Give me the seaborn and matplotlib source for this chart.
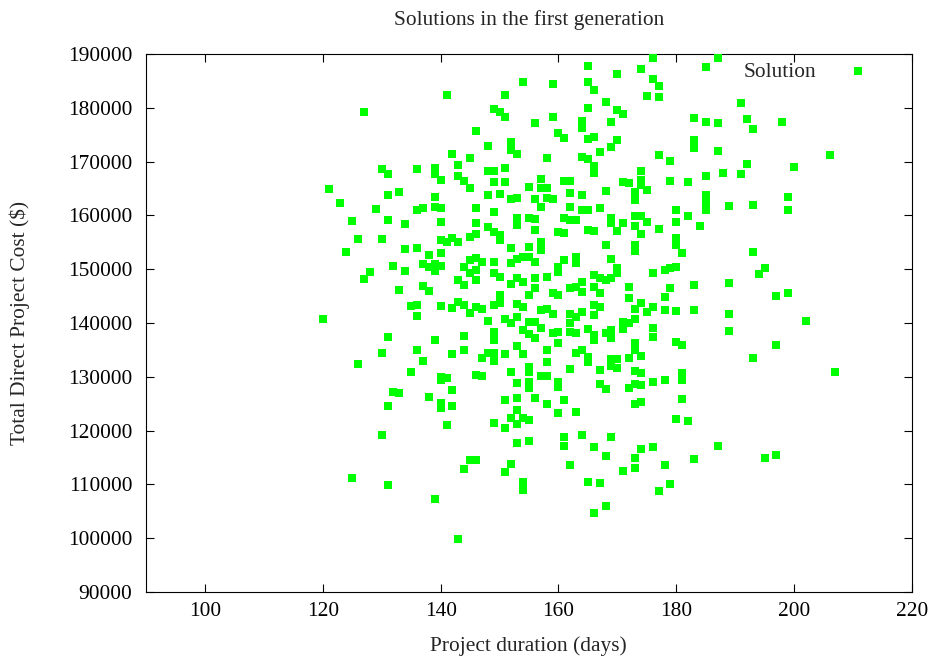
import matplotlib
matplotlib.use("Agg")
import matplotlib.pyplot as plt
import seaborn as sns
import pandas as pd

# ---- data ----
duration_days = [
    120,
    121,
    123,
    124,
    125, 125,
    126, 126,
    127, 127,
    128,
    129,
    130, 130, 130, 130,
    131, 131, 131, 131, 131, 131,
    132, 132,
    133, 133, 133,
    134, 134, 134,
    135, 135,
    136, 136, 136, 136, 136, 136,
    137, 137, 137, 137,
    138, 138, 138, 138,
    139, 139, 139, 139, 139, 139, 139, 139,
    140, 140, 140, 140, 140, 140, 140, 140, 140, 140, 140,
    141, 141, 141, 141,
    142, 142, 142, 142, 142, 142,
    143, 143, 143, 143, 143, 143,
    144, 144, 144, 144, 144, 144, 144,
    145, 145, 145, 145, 145, 145, 145,
    146, 146, 146, 146, 146, 146, 146, 146, 146, 146,
    147, 147, 147, 147,
    148, 148, 148, 148, 148, 148,
    149, 149, 149, 149, 149, 149, 149, 149, 149, 149, 149, 149, 149,
    150, 150, 150, 150, 150, 150, 150,
    151, 151, 151, 151, 151, 151, 151, 151, 151,
    152, 152, 152, 152, 152, 152, 152, 152, 152, 152,
    153, 153, 153, 153, 153, 153, 153, 153, 153, 153, 153, 153, 153, 153,
    154, 154, 154, 154, 154, 154, 154, 154, 154,
    155, 155, 155, 155, 155, 155, 155, 155, 155, 155, 155, 155, 155,
    156, 156, 156, 156, 156, 156, 156, 156, 156, 156,
    157, 157, 157, 157, 157, 157, 157, 157,
    158, 158, 158, 158, 158, 158, 158, 158, 158,
    159, 159, 159, 159, 159, 159,
    160, 160, 160, 160, 160, 160, 160, 160, 160, 160,
    161, 161, 161, 161, 161, 161, 161, 161,
    162, 162, 162, 162, 162, 162, 162, 162, 162, 162,
    163, 163, 163, 163, 163, 163, 163, 163,
    164, 164, 164, 164, 164, 164, 164, 164, 164, 164,
    165, 165, 165, 165, 165, 165, 165, 165, 165, 165, 165,
    166, 166, 166, 166, 166, 166, 166, 166, 166, 166, 166, 166, 166,
    167, 167, 167, 167, 167, 167, 167, 167,
    168, 168, 168, 168, 168, 168, 168, 168,
    169, 169, 169, 169, 169, 169, 169, 169, 169, 169, 169,
    170, 170, 170, 170, 170, 170, 170, 170,
    171, 171, 171, 171, 171, 171,
    172, 172, 172, 172, 172, 172,
    173, 173, 173, 173, 173, 173, 173, 173, 173, 173, 173, 173, 173, 173, 173,
    174, 174, 174, 174, 174, 174, 174, 174, 174, 174, 174, 174,
    175, 175, 175, 175,
    176, 176, 176, 176, 176, 176, 176, 176,
    177, 177, 177, 177, 177,
    178, 178, 178, 178, 178,
    179, 179, 179, 179, 179,
    180, 180, 180, 180, 180, 180, 180, 180,
    181, 181, 181, 181, 181,
    182, 182, 182,
    183, 183, 183, 183, 183, 183,
    184,
    185, 185, 185, 185, 185, 185,
    187, 187, 187, 187,
    188,
    189, 189, 189, 189,
    191, 191,
    192, 192,
    193, 193, 193, 193,
    194,
    195, 195,
    197, 197, 197,
    198,
    199, 199, 199,
    200,
    202,
    206,
    207,
]

direct_cost = [
    140700,
    164900,
    162300,
    153200,
    159000, 111200,
    155600, 132400,
    179200, 148200,
    149500,
    161200,
    168600, 155600, 134400, 119200,
    167700, 163800, 159100, 137400, 124600, 109900,
    150600, 127200,
    164300, 146100, 127000,
    158400, 153800, 149700,
    143200, 130900,
    168600, 161000, 153900, 143300, 141300, 135000,
    161400, 151000, 146900, 132900,
    152600, 150400, 145900, 126200,
    168800, 167700, 163400, 161600, 151000, 149700, 136800, 107300,
    166600, 161400, 158800, 155400, 153000, 150600, 143200, 130000, 129400, 125100, 124200,
    182400, 155100, 129800, 121000,
    171400, 155800, 142800, 134200, 127500, 124600,
    169400, 167300, 155100, 148000, 143900, 99900,
    166400, 150400, 147000, 143300, 137600, 135000, 112900,
    170700, 165100, 156000, 151700, 149300, 141900, 114500,
    175700, 161400, 158600, 156500, 152100, 149900, 148000, 143000, 130300, 114500,
    151300, 142600, 133500, 130100,
    172900, 168300, 163800, 157800, 140400, 134400,
    179800, 168300, 166200, 160600, 156900, 151300, 149300, 143300, 138300, 136800, 134400, 133000, 121400,
    179200, 164000, 156400, 155400, 148600, 145200, 143700,
    182400, 178300, 168800, 166200, 140700, 134200, 125700, 120500, 112300,
    173600, 172200, 163100, 153900, 151200, 147300, 140000, 130900, 122300, 113800,
    171400, 163200, 159500, 158200, 151900, 148400, 143500, 141100, 135700, 128800, 126000, 123800, 121200, 117700,
    184800, 152300, 147600, 143000, 138700, 134200, 122300, 110400, 109000,
    165300, 159600, 154100, 152300, 145200, 140200, 138000, 131800, 130900, 129000, 127900, 122000, 118000,
    177200, 163100, 159400, 157300, 151300, 148400, 146500, 140200, 137200, 126000,
    166800, 165100, 161600, 155100, 153600, 142400, 139100, 130100,
    170700, 165100, 163200, 148600, 142600, 135000, 132800, 130100, 124900,
    184400, 178300, 163100, 145600, 141700, 138100,
    175300, 156900, 150400, 149500, 145200, 138300, 136300, 129000, 128100, 123300,
    174400, 166400, 159500, 156700, 151700, 125700, 118800, 117100,
    166400, 164200, 161600, 159100, 146500, 141700, 140000, 138300, 131400, 113600,
    159100, 152300, 151200, 146700, 141100, 138100, 134400, 123500,
    177500, 176200, 170900, 163800, 161000, 147600, 145800, 142000, 135000, 119200,
    187800, 184800, 180000, 174200, 170500, 161000, 157300, 138900, 133700, 132800, 110400,
    183300, 174600, 169200, 167900, 157100, 148900, 146700, 143300, 141500, 137800, 136800, 117000, 104700,
    171800, 161400, 148400, 145600, 143000, 131300, 128700, 110300,
    181100, 164500, 154500, 148000, 138100, 127700, 115300, 106000,
    177400, 172700, 159500, 158600, 151900, 148400, 138700, 137200, 133300, 132000, 118800,
    186300, 179600, 174000, 157100, 150200, 149300, 133300, 131600,
    178800, 166200, 158600, 140200, 138900, 112500,
    166000, 146700, 144600, 140000, 133500, 127900,
    164300, 162900, 159900, 158000, 154500, 153400, 142600, 140700, 136300, 135000, 131100, 128700, 124900, 114900, 113100,
    187200, 168300, 166600, 165700, 159900, 156500, 143700, 133900, 130700, 128500, 125300, 116600,
    182200, 164700, 158800, 142000,
    189300, 185400, 149300, 143000, 139100, 137400, 129000, 117000,
    184100, 182000, 171200, 157500, 108800,
    149900, 144800, 142400, 129400, 113600,
    170100, 166400, 150200, 146500, 110100,
    161000, 158800, 155800, 154500, 150400, 142200, 136500, 122200,
    153000, 135900, 130700, 129400, 125900,
    166200, 159900, 121800,
    178100, 174000, 172500, 147100, 142400, 114700,
    158000,
    187600, 177400, 167300, 163800, 162300, 161000,
    189300, 177200, 172000, 117100,
    167900,
    161700, 147400, 141700, 138500,
    180900, 167700,
    178000, 169600,
    176100, 161900, 153200, 133500,
    149100,
    150200, 114900,
    145000, 135900, 115400,
    177400,
    163400, 161000, 145600,
    169000,
    140400,
    171200,
    130900,
]

x_ticks = [100, 120, 140, 160, 180, 200, 220]
y_ticks = [90000, 100000, 110000, 120000, 130000, 140000, 150000,
           160000, 170000, 180000, 190000]
series_label = "Solution"
title_text = "Solutions in the first generation"
x_label = "Project duration (days)"
y_label = r"Total Direct Project Cost (\$)"

# ---- style ----
sns.set_style("ticks")
plt.rcParams["font.family"] = ["Liberation Serif", "DejaVu Serif"]
FS = 15.4

fig, ax = plt.subplots(figsize=(9.35, 6.59), dpi=100)
fig.subplots_adjust(left=146 / 935, right=912 / 935, top=1 - 54 / 659, bottom=1 - 592 / 659)

df = pd.DataFrame({"days": duration_days, "cost": direct_cost})
sns.scatterplot(data=df, x="days", y="cost", marker="s", color="#00ff00",
                s=40, linewidth=0, label=series_label, ax=ax, zorder=3)

ax.set_xlim(90, 220)
ax.set_ylim(90000, 190000)
ax.set_xticks(x_ticks)
ax.set_yticks(y_ticks)
ax.set_xticklabels([str(v) for v in x_ticks])
ax.set_yticklabels([str(v) for v in y_ticks])
ax.tick_params(axis="both", direction="in", length=5.8, width=0.8,
               top=True, right=True, labelsize=FS, colors="black")
ax.tick_params(axis="x", pad=7)
ax.tick_params(axis="y", pad=10)
for sp in ax.spines.values():
    sp.set_visible(True)
    sp.set_linewidth(0.8)
    sp.set_color("black")

ax.set_xlabel(x_label, fontsize=FS)
ax.set_ylabel(y_label, fontsize=FS)
ax.xaxis.label.set_va("center")
ax.yaxis.label.set_va("center")
ax.xaxis.set_label_coords(0.499, -0.1004)
ax.yaxis.set_label_coords(-0.1645, 0.5)

ax.set_title(title_text, fontsize=FS, y=1.063, va="center", pad=0)

leg = ax.legend(loc="upper right", bbox_to_anchor=(0.9575, 0.985), frameon=False,
                markerfirst=False, handletextpad=0.95, borderaxespad=0, borderpad=0,
                fontsize=FS)

fig.savefig("out.png", dpi=100)
